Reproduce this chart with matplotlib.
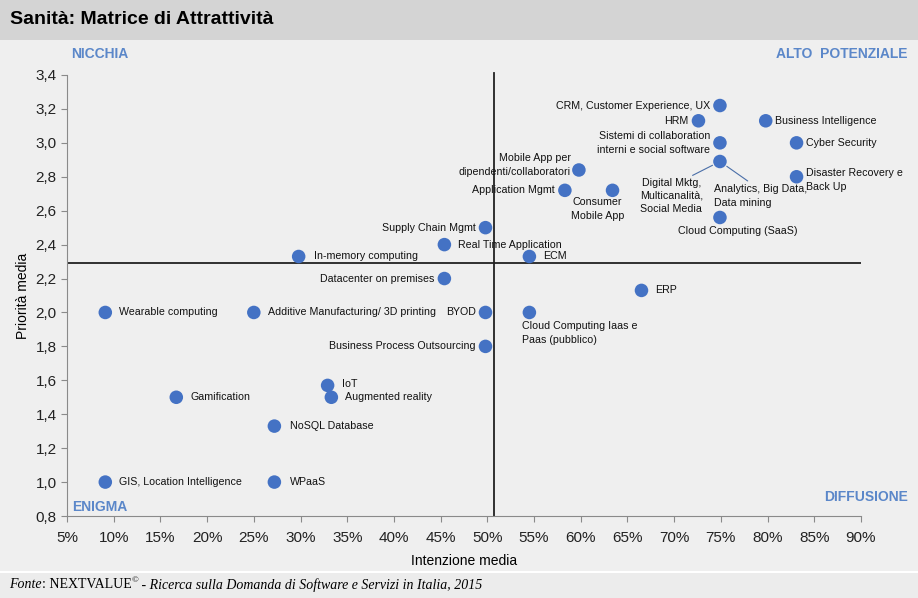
import matplotlib
matplotlib.use("Agg")
import matplotlib.pyplot as plt
from matplotlib.patches import Rectangle

# data
names = ["CRM, Customer Experience, UX", "HRM", "Business Intelligence",
         "Sistemi di collaboration\ninterni e social software", "Cyber Security",
         "Digital Mktg / Analytics", "Disaster Recovery e\nBack Up",
         "Mobile App per\ndipendenti/collaboratori", "Application Mgmt",
         "Consumer\nMobile App", "Cloud Computing (SaaS)", "Supply Chain Mgmt",
         "Real Time Application", "In-memory computing", "ECM",
         "Datacenter on premises", "ERP", "Wearable computing",
         "Additive Manufacturing/ 3D printing", "BYOD",
         "Cloud Computing Iaas e\nPaas (pubblico)", "Business Process Outsourcing",
         "IoT", "Augmented reality", "Gamification", "NoSQL Database",
         "GIS, Location Intelligence", "WPaaS"]
intenzione = [0.749, 0.726, 0.798, 0.749, 0.831, 0.749, 0.831, 0.598, 0.583,
              0.634, 0.749, 0.498, 0.454, 0.298, 0.545, 0.454, 0.665, 0.091,
              0.250, 0.498, 0.545, 0.498, 0.329, 0.333, 0.167, 0.272, 0.091, 0.272]
priorita = [3.22, 3.13, 3.13, 3.00, 3.00, 2.89, 2.80, 2.84, 2.72, 2.72, 2.56,
            2.50, 2.40, 2.33, 2.33, 2.20, 2.13, 2.00, 2.00, 2.00, 2.00, 1.80,
            1.57, 1.50, 1.50, 1.33, 1.00, 1.00]
mid_x = 0.507
mid_y = 2.29
x_ticks = [0.05, 0.10, 0.15, 0.20, 0.25, 0.30, 0.35, 0.40, 0.45, 0.50,
           0.55, 0.60, 0.65, 0.70, 0.75, 0.80, 0.85, 0.90]
y_ticks = [0.8, 1.0, 1.2, 1.4, 1.6, 1.8, 2.0, 2.2, 2.4, 2.6, 2.8, 3.0, 3.2, 3.4]

# label placement (offset in points, ha, va)
R, L = "right", "left"
place = {
    "CRM, Customer Experience, UX": (-7, 0, R, "center"),
    "HRM": (-7, 0, R, "center"),
    "Business Intelligence": (7, 0, L, "center"),
    "Sistemi di collaboration\ninterni e social software": (-7, 0, R, "center"),
    "Cyber Security": (7, 0, L, "center"),
    "Disaster Recovery e\nBack Up": (7, -2, L, "center"),
    "Mobile App per\ndipendenti/collaboratori": (-6, -5, R, "bottom"),
    "Application Mgmt": (-7, 0, R, "center"),
    "Consumer\nMobile App": (-11, -5, "center", "top"),
    "Cloud Computing (SaaS)": (13, -6, "center", "top"),
    "Supply Chain Mgmt": (-7, 0, R, "center"),
    "Real Time Application": (10, 0, L, "center"),
    "In-memory computing": (11, 0, L, "center"),
    "ECM": (10, 0, L, "center"),
    "Datacenter on premises": (-7, 0, R, "center"),
    "ERP": (10, 0, L, "center"),
    "Wearable computing": (10, 0, L, "center"),
    "Additive Manufacturing/ 3D printing": (10, 0, L, "center"),
    "BYOD": (-7, 0, R, "center"),
    "Cloud Computing Iaas e\nPaas (pubblico)": (-5, -6, L, "top"),
    "Business Process Outsourcing": (-7, 0, R, "center"),
    "IoT": (10, 1, L, "center"),
    "Augmented reality": (10, 0, L, "center"),
    "Gamification": (10, 0, L, "center"),
    "NoSQL Database": (11, 0, L, "center"),
    "GIS, Location Intelligence": (10, 0, L, "center"),
    "WPaaS": (11, 0, L, "center"),
}

bg = "#efefef"
blue = "#4472c4"
qblue = "#5b87c9"
lab_fs = 7.7
ls = 1.5
plt.rcParams["font.family"] = ["Liberation Sans", "DejaVu Sans"]

fig = plt.figure(figsize=(9.18, 5.98), dpi=100, facecolor=bg)
fig.patches.append(Rectangle((0, 1 - 40 / 598), 1, 40 / 598, transform=fig.transFigure,
                             facecolor="#d4d4d4", edgecolor="none", zorder=0))
fig.patches.append(Rectangle((0, 0), 1, 25 / 598, transform=fig.transFigure,
                             facecolor="#ececec", edgecolor="none", zorder=0))
fig.patches.append(Rectangle((0, 25 / 598), 1, 2 / 598, transform=fig.transFigure,
                             facecolor="white", edgecolor="none", zorder=0))
fig.text(10 / 918, 1 - 20 / 598, "Sanità: Matrice di Attrattività", fontsize=14,
         fontweight="bold", va="center", ha="left")

ax = fig.add_axes([67 / 918, 82 / 598, 794 / 918, 441 / 598])
ax.set_facecolor(bg)
ax.set_xlim(0.05, 0.90)
ax.set_ylim(0.8, 3.4)
for s in ["top", "right"]:
    ax.spines[s].set_visible(False)
for s in ["left", "bottom"]:
    ax.spines[s].set_color("#8a8a8a")
ax.set_xticks(x_ticks)
ax.set_xticklabels(["{:.0f}%".format(v * 100) for v in x_ticks])
ax.set_yticks(y_ticks)
ax.set_yticklabels(["{:.1f}".format(v).replace(".", ",") for v in y_ticks])
ax.tick_params(colors="#8a8a8a", labelcolor="#222222", labelsize=11, length=4)
ax.tick_params(axis="x", pad=7)
ax.set_xlabel("Intenzione media", fontsize=10, labelpad=6)
ax.set_ylabel("Priorità media", fontsize=10, labelpad=4)

ax.axvline(mid_x, color="#222222", lw=1.3, ymax=1.005, clip_on=False)
ax.axhline(mid_y, color="#222222", lw=1.3)

ax.scatter(intenzione, priorita, s=95, color=blue, zorder=3, edgecolors="none")

for n, x, y in zip(names, intenzione, priorita):
    if n in place:
        dx, dy, ha, va = place[n]
        ax.annotate(n, (x, y), xytext=(dx, dy), textcoords="offset points",
                    ha=ha, va=va, fontsize=lab_fs, linespacing=ls,
                    color="#111111")

# split label for the shared point
i = names.index("Digital Mktg / Analytics")
ax.annotate("Digital Mktg,\nMulticanalità,\nSocial Media", (intenzione[i], priorita[i]),
            xytext=(-35, -12), textcoords="offset points", ha="center", va="top",
            fontsize=lab_fs, linespacing=1.35, color="#111111",
            arrowprops=dict(arrowstyle="-", color="#4a6fa8", lw=0.8, shrinkA=0, shrinkB=6,
                            relpos=(0.75, 1.0)))
ax.annotate("Analytics, Big Data,\nData mining", (intenzione[i], priorita[i]),
            xytext=(-4, -16), textcoords="offset points", ha="left", va="top",
            fontsize=lab_fs, linespacing=ls, color="#111111",
            arrowprops=dict(arrowstyle="-", color="#4a6fa8", lw=0.8, shrinkA=0, shrinkB=6,
                            relpos=(0.4, 1.0)))

# quadrant labels
fig.text(100 / 918, 1 - 54 / 598, "NICCHIA", color=qblue, fontweight="bold",
         fontsize=10, ha="center", va="center")
fig.text(908 / 918, 1 - 54 / 598, "ALTO  POTENZIALE", color=qblue, fontweight="bold",
         fontsize=10, ha="right", va="center")
fig.text(100 / 918, 1 - 507 / 598, "ENIGMA", color=qblue, fontweight="bold",
         fontsize=10, ha="center", va="center")
fig.text(908 / 918, 1 - 497 / 598, "DIFFUSIONE", color=qblue, fontweight="bold",
         fontsize=10, ha="right", va="center")

# footer
serif = ["Liberation Serif", "DejaVu Serif"]
parts = [("Fonte", "italic", 0), (": NEXTVALUE", "normal", 0), ("©", "normal", 5),
         (" - Ricerca sulla Domanda di Software e Servizi in Italia, 2015", "italic", 0)]
r = fig.canvas.get_renderer()
xpos = 9
for txt, st, up in parts:
    t = fig.text(xpos / 918, (13 + up) / 598, txt, family=serif, style=st,
                 fontsize=10 if up == 0 else 6.5, va="center", ha="left")
    xpos = t.get_window_extent(r).x1

fig.savefig("out.png", dpi=100, facecolor=bg)
